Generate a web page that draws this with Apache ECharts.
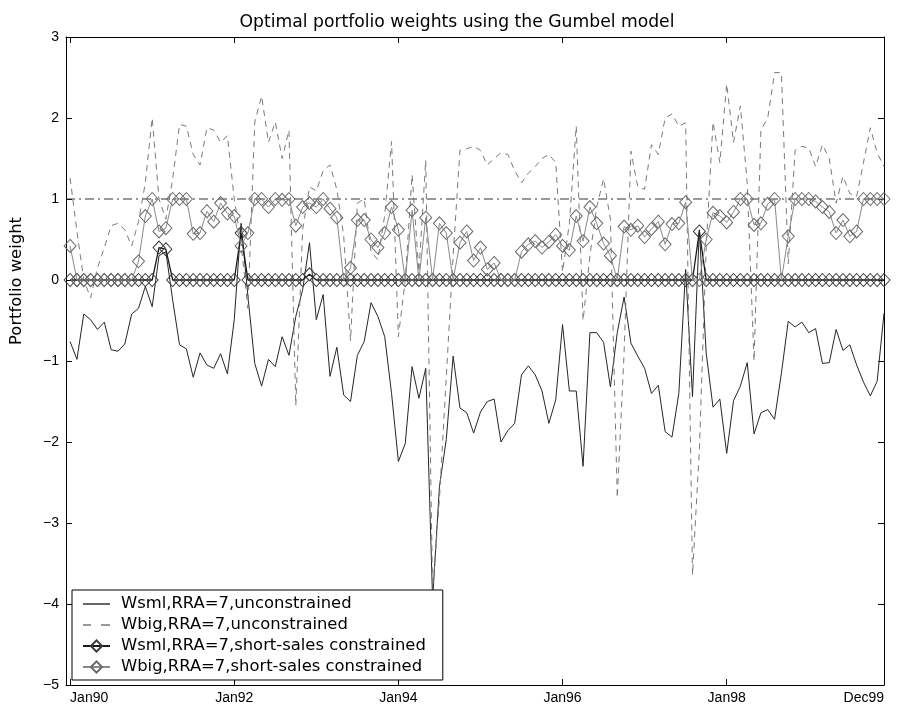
<!DOCTYPE html>
<html>
<head>
<meta charset="utf-8">
<title>Optimal portfolio weights using the Gumbel model</title>
<script src="https://cdn.jsdelivr.net/npm/echarts@6/dist/echarts.min.js"></script>
<style>
  html, body { margin: 0; padding: 0; background: #fff; }
  #chart { width: 914px; height: 709px; }
</style>
</head>
<body>
<div id="chart"></div>
<script>
// monthly observations, Jan90 .. Dec99 (index 0 .. 119)
var tickPos = [0, 24, 48, 72, 96, 119];
var tickLabels = ['Jan90', 'Jan92', 'Jan94', 'Jan96', 'Jan98', 'Dec99'];

// Wsml, RRA=7, unconstrained
var wsml = [
  -0.76, -0.98, -0.42, -0.49, -0.61, -0.52, -0.86, -0.88, -0.79, -0.42,
  -0.35, -0.08, -0.33, 0.30, 0.35, -0.25, -0.80, -0.85, -1.20, -0.90,
  -1.05, -1.09, -0.91, -1.16, -0.49, 0.70, -0.20, -1.03, -1.31, -0.98,
  -1.07, -0.70, -0.93, -0.45, -0.12, 0.46, -0.49, -0.18, -1.19, -0.83,
  -1.42, -1.50, -0.93, -0.76, -0.28, -0.45, -0.70, -1.40, -2.24, -2.02,
  -1.07, -1.46, -1.09, -3.95, -2.55, -1.97, -0.94, -1.58, -1.64, -1.89,
  -1.63, -1.50, -1.47, -2.00, -1.86, -1.77, -1.17, -1.06, -1.17, -1.37,
  -1.77, -1.48, -0.55, -1.37, -1.37, -2.30, -0.65, -0.65, -0.77, -1.32,
  -0.65, -0.21, -0.78, -0.94, -1.09, -1.40, -1.30, -1.87, -1.94, -1.40,
  0.13, -1.44, 0.62, -0.90, -1.57, -1.47, -2.14, -1.49, -1.31, -1.02,
  -1.90, -1.64, -1.60, -1.72, -1.15, -0.51, -0.58, -0.52, -0.65, -0.60,
  -1.03, -1.02, -0.61, -0.87, -0.80, -1.05, -1.26, -1.43, -1.25, -0.41
];

// Wbig, RRA=7, unconstrained
var wbig = [
  1.26, 0.60, 0.00, -0.22, 0.15, 0.40, 0.67, 0.70, 0.62, 0.42,
  0.72, 1.20, 2.00, 1.00, 0.75, 1.25, 1.92, 1.90, 1.55, 1.42,
  1.88, 1.85, 1.70, 1.78, 1.00, 0.45, -0.35, 1.95, 2.27, 1.70,
  1.95, 1.50, 1.85, -1.55, 0.62, 1.15, 1.10, 1.35, 1.42, 1.12,
  0.55, -0.75, 0.95, 1.00, 0.35, 0.25, 0.80, 1.71, -0.70, 0.00,
  1.30, 0.10, 1.48, -3.85, -2.70, -1.20, 0.30, 1.60, 1.62, 1.65,
  1.60, 1.42, 1.50, 1.57, 1.55, 1.35, 1.20, 1.32, 1.40, 1.50,
  1.55, 1.45, 0.10, 0.70, 1.90, -0.50, 0.30, 0.90, 1.25, 0.75,
  -2.69, -0.90, 1.59, 1.15, 1.12, 1.67, 1.55, 2.00, 2.05, 1.90,
  1.94, -3.64, -2.10, 0.40, 1.95, 1.45, 2.42, 1.70, 2.15, 1.20,
  -1.00, 1.85, 2.00, 2.56, 2.56, 0.20, 1.60, 1.65, 1.63, 1.40,
  1.67, 1.50, 0.95, 1.28, 1.07, 1.03, 1.45, 1.88, 1.57, 1.40
];

// Wsml, RRA=7, short-sales constrained
var wsmlC = [
  0, 0, 0, 0, 0, 0, 0, 0, 0, 0,
  0, 0, 0, 0.40, 0.38, 0, 0, 0, 0, 0,
  0, 0, 0, 0, 0, 0.58, 0, 0, 0, 0,
  0, 0, 0, 0, 0, 0.07, 0, 0, 0, 0,
  0, 0, 0, 0, 0, 0, 0, 0, 0, 0,
  0, 0, 0, 0, 0, 0, 0, 0, 0, 0,
  0, 0, 0, 0, 0, 0, 0, 0, 0, 0,
  0, 0, 0, 0, 0, 0, 0, 0, 0, 0,
  0, 0, 0, 0, 0, 0, 0, 0, 0, 0,
  0, 0, 0.60, 0, 0, 0, 0, 0, 0, 0,
  0, 0, 0, 0, 0, 0, 0, 0, 0, 0,
  0, 0, 0, 0, 0, 0, 0, 0, 0, 0
];

// Wbig, RRA=7, short-sales constrained
var wbigC = [
  0.42, 0, 0, 0, 0, 0, 0, 0, 0, 0,
  0.23, 0.79, 1.00, 0.60, 0.64, 1.00, 1.00, 1.00, 0.57, 0.58,
  0.85, 0.72, 0.95, 0.82, 0.79, 0.42, 0.58, 1.00, 1.00, 0.90,
  1.00, 0.99, 1.00, 0.67, 0.90, 0.95, 0.90, 1.00, 0.88, 0.77,
  0, 0.15, 0.74, 0.74, 0.50, 0.40, 0.58, 0.90, 0.62, 0,
  0.86, 0, 0.77, 0, 0.70, 0.58, 0, 0.46, 0.60, 0.24,
  0.40, 0.13, 0.21, 0, 0, 0, 0.35, 0.44, 0.48, 0.40,
  0.47, 0.56, 0.42, 0.37, 0.79, 0.48, 0.90, 0.70, 0.45, 0.30,
  0, 0.66, 0.62, 0.67, 0.53, 0.63, 0.72, 0.44, 0.69, 0.70,
  0.96, 0, 0, 0.50, 0.83, 0.79, 0.71, 0.84, 1.00, 1.00,
  0.68, 0.70, 0.94, 1.00, 0, 0.54, 1.00, 1.00, 1.00, 0.97,
  0.90, 0.84, 0.58, 0.74, 0.54, 0.60, 1.00, 1.00, 1.00, 1.00
];

// full-investment reference level
var refLevel = 1;

var names = [
  'Wsml,RRA=7,unconstrained',
  'Wbig,RRA=7,unconstrained',
  'Wsml,RRA=7,short-sales constrained',
  'Wbig,RRA=7,short-sales constrained'
];

var FONT = '"Liberation Sans", Arial, Helvetica, sans-serif';
var FONT_WIDE = '"DejaVu Sans", "Liberation Sans", Arial, sans-serif';
var xMin = -0.6, xMax = 119;

function pairs(arr) {
  return arr.map(function (v, i) { return [i, v]; });
}

var chart = echarts.init(document.getElementById('chart'), null, { renderer: 'canvas' });

var xCommon = {
  type: 'value', min: xMin, max: xMax,
  splitLine: { show: false },
  axisLine: { show: true, onZero: false, lineStyle: { color: '#000', width: 1 } },
  axisTick: { show: true, inside: true, length: 6, customValues: tickPos, lineStyle: { color: '#000' } }
};
var yCommon = {
  type: 'value', min: -5, max: 3, interval: 1,
  splitLine: { show: false },
  axisLine: { show: true, onZero: false, lineStyle: { color: '#000', width: 1 } },
  axisTick: { show: true, inside: true, length: 6, lineStyle: { color: '#000' } }
};

// legend samples for the two plain lines: solid and dashed strokes
var solidIcon = 'path://M0,0 H27 V1.4 H0 Z';
var dashIcon = 'path://M0,0 H8 V1.4 H0 Z M18,0 H27 V1.4 H18 Z';

var option = {
  animation: false,
  backgroundColor: '#fff',
  textStyle: { fontFamily: FONT },
  title: {
    text: 'Optimal portfolio weights using the Gumbel model',
    left: 'center', top: 9,
    textStyle: { fontFamily: FONT_WIDE, fontSize: 17.2, fontWeight: 'normal', color: '#000' }
  },
  grid: { left: 66, right: 30, top: 37, bottom: 24 },
  xAxis: [
    echarts.util.merge({
      position: 'bottom',
      axisLabel: {
        show: true, customValues: tickPos, color: '#000', fontSize: 14, fontFamily: FONT, margin: 6,
        alignMinLabel: 'left', alignMaxLabel: 'right',
        formatter: function (v) { return tickLabels[tickPos.indexOf(Math.round(v))] || ''; }
      }
    }, xCommon, true),
    echarts.util.merge({ position: 'top', axisLabel: { show: false } }, xCommon, true)
  ],
  yAxis: [
    echarts.util.merge({
      position: 'left',
      axisLabel: {
        color: '#000', fontSize: 14, fontFamily: FONT, margin: 7,
        formatter: function (v) { return String(v).replace('-', '\u2212'); }
      }
    }, yCommon, true),
    echarts.util.merge({ position: 'right', axisLabel: { show: false } }, yCommon, true)
  ],
  graphic: [{
    type: 'text', x: 17, y: 281, rotation: Math.PI / 2,
    style: {
      text: 'Portfolio weight', fill: '#000',
      font: '16.4px ' + FONT_WIDE, textAlign: 'center', textVerticalAlign: 'middle'
    }
  }],
  legend: {
    orient: 'vertical', left: 72, bottom: 29,
    data: [
      { name: names[0], icon: solidIcon },
      { name: names[1], icon: dashIcon },
      { name: names[2] },
      { name: names[3] }
    ],
    backgroundColor: '#fff', borderColor: '#000', borderWidth: 1, borderRadius: 0,
    padding: [6, 17, 5, 10],
    itemWidth: 27, itemHeight: 14, itemGap: 5,
    textStyle: { fontSize: 16.4, color: '#000', fontFamily: FONT_WIDE, padding: [0, 0, 0, 6] }
  },
  series: [
    {
      name: names[0], type: 'line', data: pairs(wsml),
      symbol: 'none', z: 2,
      lineStyle: { color: '#262626', width: 1 }, itemStyle: { color: '#262626' }
    },
    {
      name: names[1], type: 'line', data: pairs(wbig),
      symbol: 'none', z: 2,
      lineStyle: { color: '#7a7a7a', width: 1, type: [6, 5] }, itemStyle: { color: '#7a7a7a' }
    },
    {
      name: names[2], type: 'line', data: pairs(wsmlC),
      symbol: 'diamond', symbolSize: [12, 13], showSymbol: true, z: 3,
      lineStyle: { color: '#1a1a1a', width: 1.3 },
      itemStyle: { color: 'rgba(255,255,255,0)', borderColor: '#3a3a3a', borderWidth: 1 }
    },
    {
      name: names[3], type: 'line', data: pairs(wbigC),
      symbol: 'diamond', symbolSize: [12, 13], showSymbol: true, z: 4,
      lineStyle: { color: '#8a8a8a', width: 1 },
      itemStyle: { color: 'rgba(255,255,255,0)', borderColor: '#6a6a6a', borderWidth: 1 }
    },
    {
      name: 'ref', type: 'line', data: [[xMin, refLevel], [xMax, refLevel]],
      symbol: 'none', z: 1, silent: true,
      lineStyle: { color: '#333', width: 1, type: [9, 4, 2, 4] }
    }
  ]
};

chart.setOption(option);
</script>
</body>
</html>
